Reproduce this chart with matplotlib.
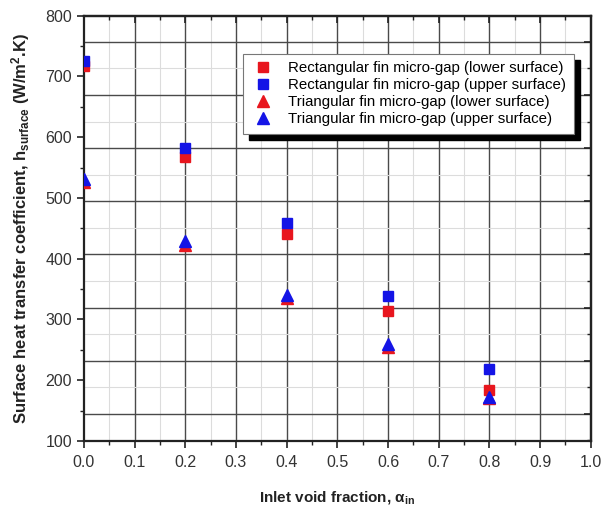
import numpy as np
import matplotlib
matplotlib.use('Agg')
import matplotlib.pyplot as plt
from matplotlib.patches import Rectangle

plt.rcParams['font.family'] = ['Liberation Sans', 'DejaVu Sans']
plt.rcParams['mathtext.fontset'] = 'custom'
plt.rcParams['mathtext.rm'] = 'Liberation Sans'
plt.rcParams['mathtext.it'] = 'Liberation Sans:italic'
plt.rcParams['mathtext.bf'] = 'Liberation Sans:bold'

# inlet void fraction
alpha_in = [0.0, 0.2, 0.4, 0.6, 0.8]

# surface heat transfer coefficient (W/m2.K)
rect_lower = [717, 568, 441, 314, 184]
rect_upper = [726, 583, 459, 339, 218]
tri_lower = [526, 423, 335, 255, 170]
tri_upper = [532, 429, 340, 260, 173]

labels = ['Rectangular fin micro-gap (lower surface)',
          'Rectangular fin micro-gap (upper surface)',
          'Triangular fin micro-gap (lower surface)',
          'Triangular fin micro-gap (upper surface)']

red = '#e8161e'
blue = '#1414e6'

fig = plt.figure(figsize=(6.04, 5.08), dpi=100)
ax = fig.add_axes([0.139, 0.132, 0.839, 0.837])

ax.set_xlim(0.0, 1.0)
ax.set_ylim(100, 800)

# grid: vertical follows x ticks, horizontal grid is offset (as in the source figure)
for x in np.arange(0.1, 1.0, 0.1):
    ax.axvline(x, color='#4a4a4a', lw=1.0, zorder=0)
for x in np.arange(0.05, 1.0, 0.1):
    ax.axvline(x, color='#dcdcdc', lw=0.8, zorder=0)
hgrid = 757.0 - 87.5 * np.arange(8)
for y in hgrid:
    ax.axhline(y, color='#4a4a4a', lw=1.0, zorder=0)
for y in np.append(hgrid + 43.75, hgrid[-1] - 43.75):
    ax.axhline(y, color='#dcdcdc', lw=0.8, zorder=0)

ms = 7
ax.plot(alpha_in, rect_lower, 's', color=red, ms=ms, mec=red, label=labels[0], zorder=3)
ax.plot(alpha_in, rect_upper, 's', color=blue, ms=ms, mec=blue, label=labels[1], zorder=3)
ax.plot(alpha_in, tri_lower, '^', color=red, ms=ms + 1, mec=red, label=labels[2], zorder=3)
ax.plot(alpha_in, tri_upper, '^', color=blue, ms=ms + 1, mec=blue, label=labels[3], zorder=3)

ax.set_xticks(np.arange(0, 1.01, 0.1))
ax.set_xticklabels(['%.1f' % v for v in np.arange(0, 1.01, 0.1)])
ax.set_xticks(np.arange(0.05, 1.0, 0.1), minor=True)
ax.set_yticks(np.arange(100, 801, 100))
ax.set_yticks(np.arange(150, 800, 100), minor=True)
ax.tick_params(axis='both', which='major', direction='out', length=5, width=1.2,
               labelsize=11.5, colors='#222222', labelcolor='#333333')
ax.tick_params(axis='both', which='minor', direction='out', length=3, width=1.0, colors='#222222')
ax.tick_params(axis='x', pad=5)

# top ticks point inwards
top = ax.secondary_xaxis('top')
top.set_xticks(np.arange(0, 1.01, 0.1))
top.set_xticks(np.arange(0.05, 1.0, 0.1), minor=True)
top.tick_params(which='major', direction='in', length=5, width=1.2, labeltop=False, colors='#222222')
top.tick_params(which='minor', direction='in', length=3, width=1.0, colors='#222222')

# right ticks sit on the offset horizontal grid
right = ax.secondary_yaxis('right')
right.set_yticks(hgrid)
right.set_yticks(hgrid - 43.75, minor=True)
right.tick_params(which='major', direction='in', length=5, width=1.2, labelright=False, colors='#222222')
right.tick_params(which='minor', direction='in', length=3, width=1.0, colors='#222222')

for sp in list(ax.spines.values()) + [top.spines['top'], right.spines['right']]:
    sp.set_linewidth(1.6)
    sp.set_color('#222222')

ax.set_xlabel(r'Inlet void fraction, $\mathbf{\alpha}_{\mathbf{in}}$', fontsize=11,
              fontweight='bold', labelpad=14, color='#222222')
ax.set_ylabel(r'Surface heat transfer coefficient, h$_{\mathbf{surface}}$ (W/m$^{\mathbf{2}}$.K)',
              fontsize=12, fontweight='bold', labelpad=10, color='#222222')

leg = ax.legend(loc='upper left', bbox_to_anchor=(0.30, 0.928), fontsize=10.8,
                frameon=True, fancybox=False, edgecolor='#777777', framealpha=1,
                handletextpad=0.9, borderpad=0.5, labelspacing=0.2, handlelength=1.6)
leg.get_frame().set_linewidth(0.8)
leg.set_zorder(6)

# solid black drop shadow behind the legend
fig.canvas.draw()
bb = leg.get_window_extent().transformed(fig.transFigure.inverted())
dx = 6 / fig.bbox.width
dy = 6 / fig.bbox.height
ax.add_artist(Rectangle((bb.x0 + dx, bb.y0 - dy), bb.width, bb.height,
                        transform=fig.transFigure, color='black', zorder=5, clip_on=False))

fig.savefig('out.png', dpi=100)
